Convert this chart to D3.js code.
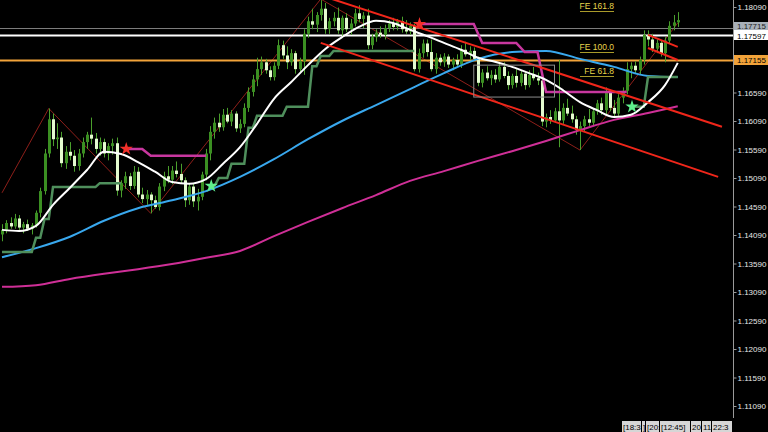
<!DOCTYPE html>
<html><head><meta charset="utf-8">
<script src="https://cdn.jsdelivr.net/npm/d3@7"></script>
<style>html,body{margin:0;padding:0;background:#000;overflow:hidden}</style>
</head><body>
<svg id="c" width="768" height="432"></svg>
<script>
// ---------- DATA ----------
// candles: [open, high, low, close]
const candles = [
[1.1410,1.1428,1.1398,1.1418],[1.1418,1.1435,1.1412,1.1430],[1.1430,1.1440,1.1420,1.1424],[1.1424,1.1446,1.1420,1.1438],
[1.1438,1.1444,1.1418,1.1422],[1.1422,1.1432,1.1412,1.1428],[1.1428,1.1436,1.1416,1.1420],[1.1420,1.1430,1.1410,1.1426],
[1.1426,1.1452,1.1422,1.1448],[1.1448,1.1492,1.1440,1.1486],[1.1486,1.1560,1.1480,1.1552],[1.1552,1.1631,1.1545,1.1612],
[1.1612,1.1622,1.1565,1.1577],[1.1577,1.1605,1.1560,1.1580],[1.1580,1.1590,1.1528,1.1535],[1.1535,1.1565,1.1525,1.1555],
[1.1555,1.1572,1.1540,1.1548],[1.1548,1.1558,1.1520,1.1530],[1.1530,1.1560,1.1522,1.1552],[1.1552,1.1580,1.1545,1.1572],
[1.1572,1.1590,1.1560,1.1585],[1.1585,1.1615,1.1568,1.1578],[1.1578,1.1588,1.1552,1.1560],[1.1560,1.1580,1.1548,1.1572],
[1.1572,1.1578,1.1545,1.1552],[1.1552,1.1570,1.1540,1.1565],[1.1565,1.1578,1.1550,1.1570],[1.1570,1.1580,1.1478,1.1487],
[1.1487,1.1505,1.1475,1.1500],[1.1500,1.1520,1.1490,1.1512],[1.1512,1.1518,1.1488,1.1495],[1.1495,1.1530,1.1490,1.1520],
[1.1520,1.1528,1.1475,1.1480],[1.1480,1.1492,1.1465,1.1472],[1.1472,1.1488,1.1462,1.1480],[1.1480,1.1484,1.1447,1.1470],
[1.1470,1.1478,1.1455,1.1458],[1.1458,1.1500,1.1452,1.1494],[1.1494,1.1520,1.1486,1.1512],[1.1512,1.1530,1.1500,1.1506],
[1.1506,1.1530,1.1498,1.1522],[1.1522,1.1538,1.1510,1.1516],[1.1516,1.1534,1.1500,1.1505],[1.1505,1.1510,1.1458,1.1470],
[1.1470,1.1500,1.1462,1.1494],[1.1494,1.1500,1.1458,1.1468],[1.1468,1.1490,1.1452,1.1476],[1.1476,1.1520,1.1470,1.1515],
[1.1515,1.1560,1.1505,1.1552],[1.1552,1.1600,1.1540,1.1590],[1.1590,1.1615,1.1578,1.1606],[1.1606,1.1622,1.1590,1.1598],
[1.1598,1.1630,1.1592,1.1620],[1.1620,1.1632,1.1605,1.1608],[1.1608,1.1628,1.1600,1.1622],[1.1622,1.1626,1.1590,1.1596],
[1.1596,1.1612,1.1588,1.1604],[1.1604,1.1640,1.1598,1.1632],[1.1632,1.1668,1.1625,1.1660],[1.1660,1.1690,1.1652,1.1682],
[1.1682,1.1720,1.1670,1.1700],[1.1700,1.1722,1.1690,1.1712],[1.1712,1.1718,1.1692,1.1698],[1.1698,1.1705,1.1680,1.1686],
[1.1686,1.1712,1.1680,1.1706],[1.1706,1.1752,1.1700,1.1742],[1.1742,1.1750,1.1718,1.1724],[1.1724,1.1740,1.1700,1.1712],
[1.1712,1.1735,1.1706,1.1728],[1.1728,1.1732,1.1692,1.1700],[1.1700,1.1720,1.1694,1.1714],[1.1714,1.1770,1.1690,1.1762],
[1.1762,1.1792,1.1755,1.1784],[1.1784,1.1806,1.1770,1.1778],[1.1778,1.1800,1.1765,1.1795],[1.1795,1.1821,1.1785,1.1806],
[1.1806,1.1816,1.1762,1.1770],[1.1770,1.1790,1.1762,1.1784],[1.1784,1.1800,1.1775,1.1790],[1.1790,1.1808,1.1762,1.1768],
[1.1768,1.1794,1.1755,1.1790],[1.1790,1.1798,1.1765,1.1770],[1.1770,1.1788,1.1760,1.1780],[1.1780,1.1806,1.1775,1.1798],
[1.1798,1.1812,1.1782,1.1788],[1.1788,1.1800,1.1772,1.1794],[1.1794,1.1806,1.1735,1.1742],[1.1742,1.1762,1.1735,1.1756],
[1.1756,1.1770,1.1748,1.1764],[1.1764,1.1775,1.1755,1.1760],[1.1760,1.1778,1.1752,1.1772],[1.1772,1.1786,1.1765,1.1780],
[1.1780,1.1790,1.1768,1.1774],[1.1774,1.1788,1.1768,1.1784],[1.1784,1.1792,1.1764,1.1770],[1.1770,1.1786,1.1762,1.1766],
[1.1766,1.1782,1.1760,1.1776],[1.1776,1.1780,1.1696,1.1700],[1.1700,1.1736,1.1694,1.1728],[1.1728,1.1752,1.1720,1.1745],
[1.1745,1.1752,1.1722,1.1730],[1.1730,1.1752,1.1696,1.1700],[1.1700,1.1728,1.1692,1.1720],[1.1720,1.1726,1.1706,1.1712],
[1.1712,1.1728,1.1704,1.1722],[1.1722,1.1726,1.1702,1.1708],[1.1708,1.1720,1.1698,1.1716],[1.1716,1.1726,1.1704,1.1708],
[1.1708,1.1742,1.1702,1.1734],[1.1734,1.1748,1.1722,1.1726],[1.1726,1.1740,1.1716,1.1732],[1.1732,1.1738,1.1714,1.1718],
[1.1718,1.1722,1.1670,1.1676],[1.1676,1.1700,1.1668,1.1694],[1.1694,1.1705,1.1680,1.1684],[1.1684,1.1698,1.1672,1.1690],
[1.1690,1.1700,1.1676,1.1682],[1.1682,1.1712,1.1678,1.1704],[1.1704,1.1712,1.1684,1.1688],[1.1688,1.1696,1.1664,1.1672],
[1.1672,1.1692,1.1666,1.1688],[1.1688,1.1700,1.1668,1.1676],[1.1676,1.1698,1.1670,1.1692],[1.1692,1.1696,1.1664,1.1672],
[1.1672,1.1698,1.1668,1.1690],[1.1690,1.1704,1.1680,1.1684],[1.1684,1.1694,1.1672,1.1680],[1.1680,1.1688,1.1600,1.1608],
[1.1608,1.1622,1.1598,1.1616],[1.1616,1.1628,1.1604,1.1610],[1.1610,1.1632,1.1606,1.1626],[1.1626,1.1716,1.1563,1.1610],
[1.1610,1.1640,1.1604,1.1632],[1.1632,1.1648,1.1618,1.1622],[1.1622,1.1636,1.1606,1.1612],[1.1612,1.1618,1.1585,1.1594],
[1.1594,1.1608,1.1558,1.1600],[1.1600,1.1618,1.1590,1.1612],[1.1612,1.1630,1.1600,1.1606],[1.1606,1.1632,1.1600,1.1626],
[1.1626,1.1646,1.1620,1.1640],[1.1640,1.1650,1.1620,1.1628],[1.1628,1.1668,1.1618,1.1660],[1.1660,1.1664,1.1626,1.1632],
[1.1632,1.1646,1.1616,1.1622],[1.1622,1.1656,1.1618,1.1650],[1.1650,1.1668,1.1640,1.1662],[1.1662,1.1712,1.1656,1.1700],
[1.1700,1.1712,1.1684,1.1706],[1.1706,1.1714,1.1692,1.1698],[1.1698,1.1722,1.1690,1.1716],[1.1716,1.1768,1.1708,1.1760],
[1.1760,1.1768,1.1740,1.1752],[1.1752,1.1762,1.1730,1.1736],[1.1736,1.1752,1.1728,1.1746],[1.1746,1.1750,1.1722,1.1728],
[1.1728,1.1756,1.1712,1.1750],[1.1750,1.1784,1.1746,1.1776],[1.1776,1.1795,1.1768,1.1782],[1.1782,1.1800,1.1774,1.1786]
];
// fast moving average (white), sampled at bar indices
const maFastIdx = [0,4,8,12,16,20,24,28,32,36,40,44,48,52,56,60,64,68,72,76,80,84,88,92,96,100,104,108,112,116,120,124,128,132,136,140,144,148,152,156,159];
const maFast = [1.1418,1.1416,1.1425,1.1462,1.1492,1.1523,1.1555,1.1551,1.1537,1.1520,1.1502,1.1499,1.1507,1.1534,1.1563,1.1604,1.1648,1.1677,1.1707,1.1735,1.1756,1.1774,1.1785,1.1781,1.1769,1.1758,1.1746,1.1734,1.1720,1.1713,1.1704,1.1693,1.1681,1.1663,1.1642,1.1628,1.1616,1.1620,1.1642,1.1672,1.1711];
// medium moving average (blue) and slow moving average (magenta)
const maIdx = [0,8,16,24,32,40,48,56,64,72,80,88,96,104,112,120,128,136,144,152,159];
const maMid = [1.1370,1.1386,1.1406,1.1434,1.1456,1.1470,1.1486,1.1511,1.1542,1.1577,1.1609,1.1637,1.1665,1.1693,1.1718,1.1730,1.1732,1.1718,1.1704,1.1688,1.1686];
const maSlow = [1.1318,1.1321,1.1332,1.1341,1.1349,1.1358,1.1369,1.1381,1.1407,1.1432,1.1456,1.1479,1.1504,1.1521,1.1539,1.1556,1.1574,1.1593,1.1611,1.1623,1.1635];
// trailing stop: [fromBar, toBar, price, trend]
const trailSegments = [
[0,7,1.1379,'up'],[8,9,1.1404,'up'],[10,11,1.1437,'up'],[12,22,1.1493,'up'],[23,28,1.1500,'up'],
[29,33,1.1560,'down'],[35,48,1.1548,'down'],
[49,50,1.1495,'up'],[51,53,1.1509,'up'],[54,57,1.1534,'up'],[58,59,1.1597,'up'],[60,66,1.1618,'up'],[67,72,1.1634,'up'],[73,74,1.1705,'up'],[75,77,1.1723,'up'],[78,97,1.1732,'up'],
[98,111,1.1779,'down'],[113,121,1.1746,'down'],[123,126,1.1730,'down'],[128,147,1.1660,'down'],
[148,151,1.1634,'up'],[152,159,1.1686,'up']
];
// zigzag pivots [bar, price]
const zigzag = [[0,1.1483],[11,1.1631],[35,1.1447],[75,1.1823],[136,1.1558],[159,1.1781]];
// trend lines [[bar, price],[bar, price]]
const trendLines = [
[[76,1.1827],[169.4,1.1599]],
[[75,1.1746],[168.5,1.1511]],
[[152,1.1760],[159,1.1739]],
[[152,1.1737],[159,1.1716]]
];
// rectangle [fromBar, toBar, topPrice, bottomPrice]
const boxRange = [111,130,1.1707,1.1651];
// fibonacci expansion levels
const feLabels = ['FE 161.8','FE 100.0','FE 61.8'];
const fePrices = [1.1802,1.1730,1.1688];
const feBars = [136,144];
// horizontal price lines
const hLevels = [1.17715,1.17597,1.17155];
// price axis ticks (labels covered by the price tags are left blank)
const yTicks = [1.18090,1.17590,1.17090,1.16590,1.16090,1.15590,1.15090,1.14590,1.14090,1.13590,1.13090,1.12590,1.12090,1.11590,1.11090];
const hiddenTicks = [1.17590,1.17090];
// time axis labels
const timeLabels = ['[18:3',']','[20:','[12:45]','20','11','22:3'];

// ---------- DRAW ----------
const W = 768, H = 432, axisX = 733, plotBottom = 418;
const svg = d3.select('#c');
svg.append('rect').attr('width', W).attr('height', H).attr('fill', '#000');
const x = d3.scaleLinear().domain([0, 159]).range([2, 677.75]);
const y = d3.scaleLinear().domain([1.11090, 1.18090]).range([406, 7]);
svg.append('defs').append('clipPath').attr('id', 'plot')
  .append('rect').attr('x', 0).attr('y', 0).attr('width', axisX).attr('height', plotBottom);
const g = svg.append('g').attr('clip-path', 'url(#plot)');

// zigzag
g.append('path').datum(zigzag)
  .attr('d', d3.line().x(d => x(d[0])).y(d => y(d[1])))
  .attr('fill', 'none').attr('stroke', '#8e1f1a').attr('stroke-width', 1);

// horizontal levels
const hStyles = [{c: '#7c7c7c', w: 1}, {c: '#ffffff', w: 2}, {c: '#f2a33a', w: 2}];
g.selectAll('line.hl').data(hLevels).join('line').attr('class', 'hl')
  .attr('x1', 0).attr('x2', axisX)
  .attr('y1', d => Math.round(y(d)) + 0.5).attr('y2', d => Math.round(y(d)) + 0.5)
  .attr('stroke', (d, i) => hStyles[i].c).attr('stroke-width', (d, i) => hStyles[i].w);

// candles
const wickC = '#4a9f2c';
const cg = g.append('g').selectAll('g').data(candles).join('g');
cg.append('line')
  .attr('x1', (d, i) => Math.round(x(i)) + 0.5).attr('x2', (d, i) => Math.round(x(i)) + 0.5)
  .attr('y1', d => y(d[1])).attr('y2', d => y(d[2]))
  .attr('stroke', wickC).attr('stroke-width', 1);
cg.append('rect')
  .attr('x', (d, i) => Math.round(x(i)) - 1).attr('width', 3)
  .attr('y', d => y(Math.max(d[0], d[3])))
  .attr('height', d => Math.max(1, Math.abs(y(d[0]) - y(d[3]))))
  .attr('fill', d => d[3] >= d[0] ? '#3b8f22' : '#e4fbcf');

// moving averages
const maLine = d3.line().x(d => x(d[0])).y(d => y(d[1])).curve(d3.curveMonotoneX);
g.append('path').datum(d3.zip(maIdx, maSlow)).attr('d', maLine)
  .attr('fill', 'none').attr('stroke', '#cf2f97').attr('stroke-width', 2);
g.append('path').datum(d3.zip(maIdx, maMid)).attr('d', maLine)
  .attr('fill', 'none').attr('stroke', '#39a8ee').attr('stroke-width', 2);

// trailing stop
const runs = [];
trailSegments.forEach(s => {
  const last = runs[runs.length - 1];
  const pts = [[s[0], s[2]], [s[1], s[2]]];
  if (last && last.dir === s[3]) last.pts.push(...pts);
  else runs.push({dir: s[3], pts: pts});
});
const lin = d3.line().x(d => x(d[0])).y(d => y(d[1]));
g.selectAll('path.trail').data(runs).join('path').attr('class', 'trail')
  .attr('d', d => lin(d.pts)).attr('fill', 'none')
  .attr('stroke', d => d.dir === 'up' ? '#4f8f5c' : '#c8379f').attr('stroke-width', 2.5);

// white fast MA on top
g.append('path').datum(d3.zip(maFastIdx, maFast)).attr('d', maLine)
  .attr('fill', 'none').attr('stroke', '#ffffff').attr('stroke-width', 2);

// trend lines
g.selectAll('path.tl').data(trendLines).join('path').attr('class', 'tl')
  .attr('d', d => lin(d)).attr('fill', 'none').attr('stroke', '#f0261a').attr('stroke-width', 2);

// rectangle
g.append('rect')
  .attr('x', x(boxRange[0])).attr('width', x(boxRange[1]) - x(boxRange[0]))
  .attr('y', y(boxRange[2])).attr('height', y(boxRange[3]) - y(boxRange[2]))
  .attr('fill', 'none').attr('stroke', '#8c8c8c').attr('stroke-width', 1);

// stars at trend switches
const star = d3.symbol().type(d3.symbolStar).size(55);
g.selectAll('path.star').data(runs.slice(1)).join('path').attr('class', 'star')
  .attr('d', star)
  .attr('transform', d => `translate(${x(d.pts[0][0]) + 1},${y(d.pts[0][1])})`)
  .attr('fill', d => d.dir === 'up' ? '#5ff08c' : '#f2302a');

// FE levels
const fe = g.selectAll('g.fe').data(fePrices).join('g').attr('class', 'fe');
fe.append('line').attr('x1', x(feBars[0])).attr('x2', x(feBars[1]))
  .attr('y1', d => Math.round(y(d)) + 0.5).attr('y2', d => Math.round(y(d)) + 0.5)
  .attr('stroke', '#a99a2a').attr('stroke-width', 1);
fe.append('text').attr('x', x(feBars[1])).attr('y', d => y(d) - 2)
  .attr('text-anchor', 'end').attr('fill', '#e8d44c')
  .style('font', '8.5px "Liberation Sans", Arial, sans-serif')
  .text((d, i) => feLabels[i]);

// price axis
svg.append('line').attr('x1', axisX + 0.5).attr('x2', axisX + 0.5).attr('y1', 0).attr('y2', plotBottom)
  .attr('stroke', '#9a9a9a').attr('stroke-width', 1);
const fmt = d3.format('.5f');
const ax = svg.append('g').attr('transform', `translate(${axisX + 0.5},0)`)
  .call(d3.axisRight(y).tickValues(yTicks)
    .tickFormat(d => hiddenTicks.includes(d) ? '' : fmt(d))
    .tickSize(3).tickSizeOuter(0).tickPadding(1));
ax.select('.domain').remove();
ax.selectAll('line').attr('stroke', '#9a9a9a');
ax.selectAll('text').attr('fill', '#e8e8e8').style('font', '8px "Liberation Sans", Arial, sans-serif');

// price tags (the upper tag is partly covered by the next one, as on the reference)
const tagStyles = [
  {bg: '#a8b0b8', fg: '#202020', top: -6, h: 8, base: 1},
  {bg: '#ffffff', fg: '#000000', top: -5, h: 10, base: 3.5},
  {bg: '#f2a33a', fg: '#000000', top: -5, h: 10, base: 3}
];
const tags = svg.selectAll('g.tag').data(hLevels).join('g').attr('class', 'tag')
  .attr('transform', d => `translate(${axisX + 1},${Math.round(y(d))})`);
tags.append('rect').attr('x', 0).attr('y', (d, i) => tagStyles[i].top).attr('width', W - axisX - 1)
  .attr('height', (d, i) => tagStyles[i].h).attr('fill', (d, i) => tagStyles[i].bg);
tags.append('text').attr('x', 3).attr('y', (d, i) => tagStyles[i].base).attr('fill', (d, i) => tagStyles[i].fg)
  .style('font', '8px "Liberation Sans", Arial, sans-serif').text(d => fmt(d));
tags.raise();

// time axis labels
const tlX = [622, 642, 646, 660, 691, 702, 712, 733];
const tl = svg.selectAll('g.tlab').data(timeLabels).join('g').attr('class', 'tlab')
  .attr('transform', (d, i) => `translate(${tlX[i]},421)`);
tl.append('rect').attr('width', (d, i) => tlX[i + 1] - tlX[i] - 1).attr('height', 11).attr('fill', '#d6d6d6');
tl.append('text').attr('x', 1).attr('y', 9).attr('fill', '#000')
  .style('font', '8px "Liberation Sans", Arial, sans-serif').text(d => d);
</script>
</body></html>
